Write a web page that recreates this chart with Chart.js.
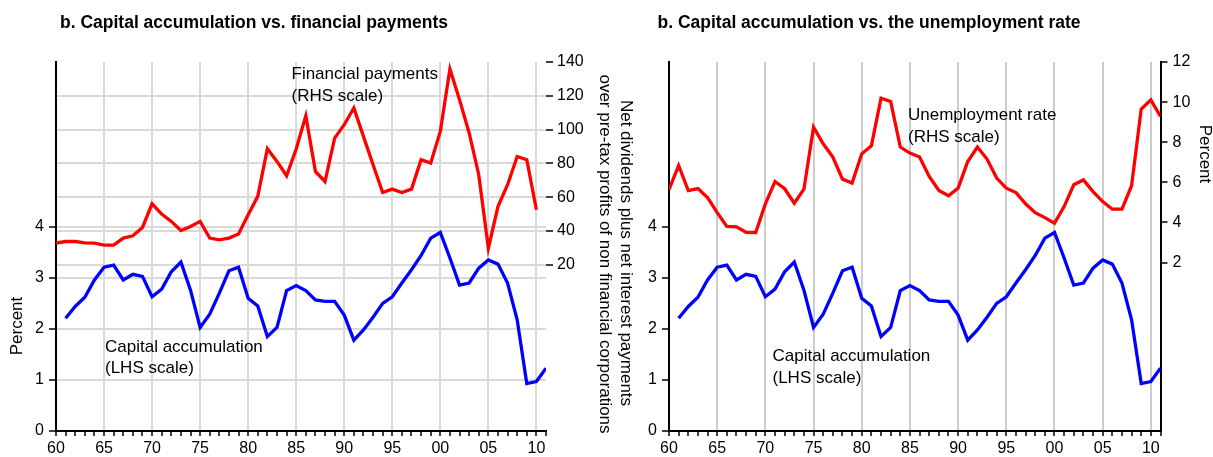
<!DOCTYPE html>
<html>
<head>
<meta charset="utf-8">
<script src="https://cdn.jsdelivr.net/npm/chart.js@4"></script>
<style>
  html, body { margin: 0; padding: 0; background: #fff; }
  #wrap { position: relative; width: 1213px; height: 457px; overflow: hidden; }
  .box { position: absolute; top: 0; height: 457px; }
</style>
</head>
<body>
<div id="wrap">
  <div class="box" style="left:0;width:640px"><canvas id="c1" width="640" height="457"></canvas></div>
  <div class="box" style="left:640px;width:573px"><canvas id="c2" width="573" height="457"></canvas></div>
</div>
<script>
// years on the x axis
const years = [1960,1961,1962,1963,1964,1965,1966,1967,1968,1969,
               1970,1971,1972,1973,1974,1975,1976,1977,1978,1979,
               1980,1981,1982,1983,1984,1985,1986,1987,1988,1989,
               1990,1991,1992,1993,1994,1995,1996,1997,1998,1999,
               2000,2001,2002,2003,2004,2005,2006,2007,2008,2009,
               2010,2011];

// labelled years and their text
const majorYears  = [1960,1965,1970,1975,1980,1985,1990,1995,2000,2005,2010];
const majorLabels = ['60','65','70','75','80','85','90','95','00','05','10'];

// financial payments, % of pre-tax profits (RHS, left panel)
const payments = [32.9,33.8,33.8,33.0,32.9,31.7,31.7,35.8,37.2,42.1,
                  56.1,50.0,45.7,40.3,42.7,45.7,35.8,34.8,35.8,38.2,
                  49.6,60.5,88.7,81.2,72.7,88.5,108.2,75.3,69.3,95.0,
                  102.9,112.8,96.0,79.2,62.8,64.8,62.8,64.8,82.2,80.2,
                  98.9,135.9,117.7,98.0,73.3,29.9,54.5,67.4,84.1,82.2,
                  52.6,null];

// capital accumulation, percent (LHS, both panels)
const capAccum = [null,2.21,2.44,2.62,2.96,3.21,3.25,2.96,3.07,3.03,
                  2.63,2.78,3.12,3.31,2.76,2.03,2.29,2.70,3.14,3.21,
                  2.60,2.45,1.85,2.03,2.75,2.85,2.75,2.57,2.54,2.54,
                  2.27,1.78,1.98,2.23,2.50,2.63,2.90,3.16,3.44,3.78,
                  3.89,3.39,2.86,2.90,3.19,3.35,3.27,2.90,2.18,0.93,
                  0.97,1.23];

// unemployment rate, percent (RHS, right panel)
const unemp = [5.63,6.84,5.59,5.69,5.24,4.49,3.80,3.78,3.51,3.50,
               4.93,6.04,5.68,4.96,5.66,8.75,7.92,7.26,6.16,5.96,
               7.42,7.82,10.20,10.03,7.76,7.46,7.26,6.29,5.59,5.33,
               5.71,7.04,7.76,7.16,6.21,5.71,5.49,4.93,4.49,4.24,
               3.96,4.79,5.88,6.12,5.54,5.04,4.66,4.66,5.83,9.65,
               10.11,9.28];

const lhsTicks = [0,1,2,3,4];
const payTicks = [20,40,60,80,100,120,140];
const unempTicks = [2,4,6,8,10,12];

Chart.defaults.font.family = "'Liberation Sans', Arial, sans-serif";
Chart.defaults.font.size = 16;
Chart.defaults.color = '#000';

const FONT = "17px 'Liberation Sans', Arial, sans-serif";
const BOLD = "bold 17.5px 'Liberation Sans', Arial, sans-serif";

const labelFor = {};
majorYears.forEach((y, i) => { labelFor[y] = majorLabels[i]; });

const pts = vals => years.map((x, i) => ({ x: x, y: vals[i] }));

// free text: titles, annotations, axis titles
const textPlugin = {
  id: 'texts',
  afterDraw(chart, args, opts) {
    const ctx = chart.ctx;
    for (const t of opts.items) {
      ctx.save();
      ctx.fillStyle = '#000';
      ctx.font = t.font || FONT;
      ctx.textAlign = t.align || 'left';
      ctx.textBaseline = t.baseline || 'alphabetic';
      ctx.translate(t.x, t.y);
      if (t.rot) ctx.rotate(t.rot);
      ctx.fillText(t.text, 0, 0);
      ctx.restore();
    }
  }
};

function xScale(gridColor) {
  return {
    type: 'linear', min: 1960, max: 2011,
    afterBuildTicks: s => { s.ticks = years.map(v => ({ value: v })); },
    afterFit: s => { s.height = 26; },
    ticks: { autoSkip: false, maxRotation: 0, padding: 3,
             callback: v => labelFor[v] || '' },
    grid: {
      color: c => (c.tick && c.tick.value % 5 === 0 && c.tick.value !== 1960) ? gridColor : 'rgba(0,0,0,0)',
      lineWidth: 2, tickColor: '#000', tickWidth: 1.5, tickLength: 5
    },
    border: { display: true, color: '#000', width: 2 }
  };
}

function yScale(pos, min, max, tickVals, width, opt) {
  return {
    type: 'linear', position: pos, min: min, max: max,
    afterBuildTicks: s => { s.ticks = tickVals.map(v => ({ value: v })); },
    afterFit: s => { s.width = width; },
    ticks: { padding: opt.pad, autoSkip: false },
    grid: {
      drawOnChartArea: opt.gridOn,
      color: c => (opt.gridOn && c.tick && c.tick.value !== 140) ? '#d9d9d9' : 'rgba(0,0,0,0)',
      lineWidth: 2, tickColor: '#000', tickWidth: 1.5, tickLength: 7
    },
    border: { display: opt.border, color: '#000', width: 2 }
  };
}

const common = {
  responsive: false,
  animation: false,
  layout: { padding: { top: 62, left: 0, right: 0, bottom: 0 } },
  elements: { point: { radius: 0 }, line: { borderWidth: 3.3, tension: 0 } }
};

new Chart(document.getElementById('c1'), {
  type: 'line',
  data: { datasets: [
    { label: 'Financial payments', data: pts(payments), yAxisID: 'y2', borderColor: '#ff0000' },
    { label: 'Capital accumulation', data: pts(capAccum), yAxisID: 'y', borderColor: '#0000ff' }
  ]},
  options: Object.assign({}, common, {
    scales: {
      x: xScale('#d9d9d9'),
      y: yScale('left', 0, 7.23, lhsTicks, 56, { pad: 5, gridOn: true, border: true }),
      y2: yScale('right', -78.3, 140, payTicks, 94, { pad: 4, gridOn: true, border: false })
    },
    plugins: {
      legend: { display: false }, tooltip: { enabled: false },
      texts: { items: [
        { text: 'b. Capital accumulation vs. financial payments', x: 254, y: 28, align: 'center', font: BOLD },
        { text: 'Financial payments', x: 291.5, y: 79 },
        { text: '(RHS scale)', x: 291.5, y: 100.5 },
        { text: 'Capital accumulation', x: 105, y: 351.5 },
        { text: '(LHS scale)', x: 105, y: 373 },
        { text: 'Percent', x: 17, y: 326, align: 'center', baseline: 'middle', rot: -Math.PI / 2 },
        { text: 'Net dividends plus net interest payments', x: 626, y: 253, align: 'center', baseline: 'middle', rot: Math.PI / 2 },
        { text: 'over pre-tax profits of non financial corporations', x: 605, y: 254, align: 'center', baseline: 'middle', rot: Math.PI / 2 }
      ]}
    }
  }),
  plugins: [textPlugin]
});

new Chart(document.getElementById('c2'), {
  type: 'line',
  data: { datasets: [
    { label: 'Unemployment rate', data: pts(unemp), yAxisID: 'y2', borderColor: '#ff0000' },
    { label: 'Capital accumulation', data: pts(capAccum), yAxisID: 'y', borderColor: '#0000ff' }
  ]},
  options: Object.assign({}, common, {
    scales: {
      x: xScale('#cccccc'),
      y: yScale('left', 0, 7.23, lhsTicks, 29, { pad: 5, gridOn: false, border: true }),
      y2: yScale('right', -6.4, 12, unempTicks, 52.5, { pad: 5, gridOn: false, border: true })
    },
    plugins: {
      legend: { display: false }, tooltip: { enabled: false },
      texts: { items: [
        { text: 'b. Capital accumulation vs. the unemployment rate', x: 229, y: 28, align: 'center', font: BOLD },
        { text: 'Unemployment rate', x: 268, y: 120 },
        { text: '(RHS scale)', x: 268, y: 141.5 },
        { text: 'Capital accumulation', x: 132.5, y: 360.5 },
        { text: '(LHS scale)', x: 132.5, y: 382.5 },
        { text: 'Percent', x: 565, y: 154, align: 'center', baseline: 'middle', rot: Math.PI / 2 }
      ]}
    }
  }),
  plugins: [textPlugin]
});
</script>
</body>
</html>
